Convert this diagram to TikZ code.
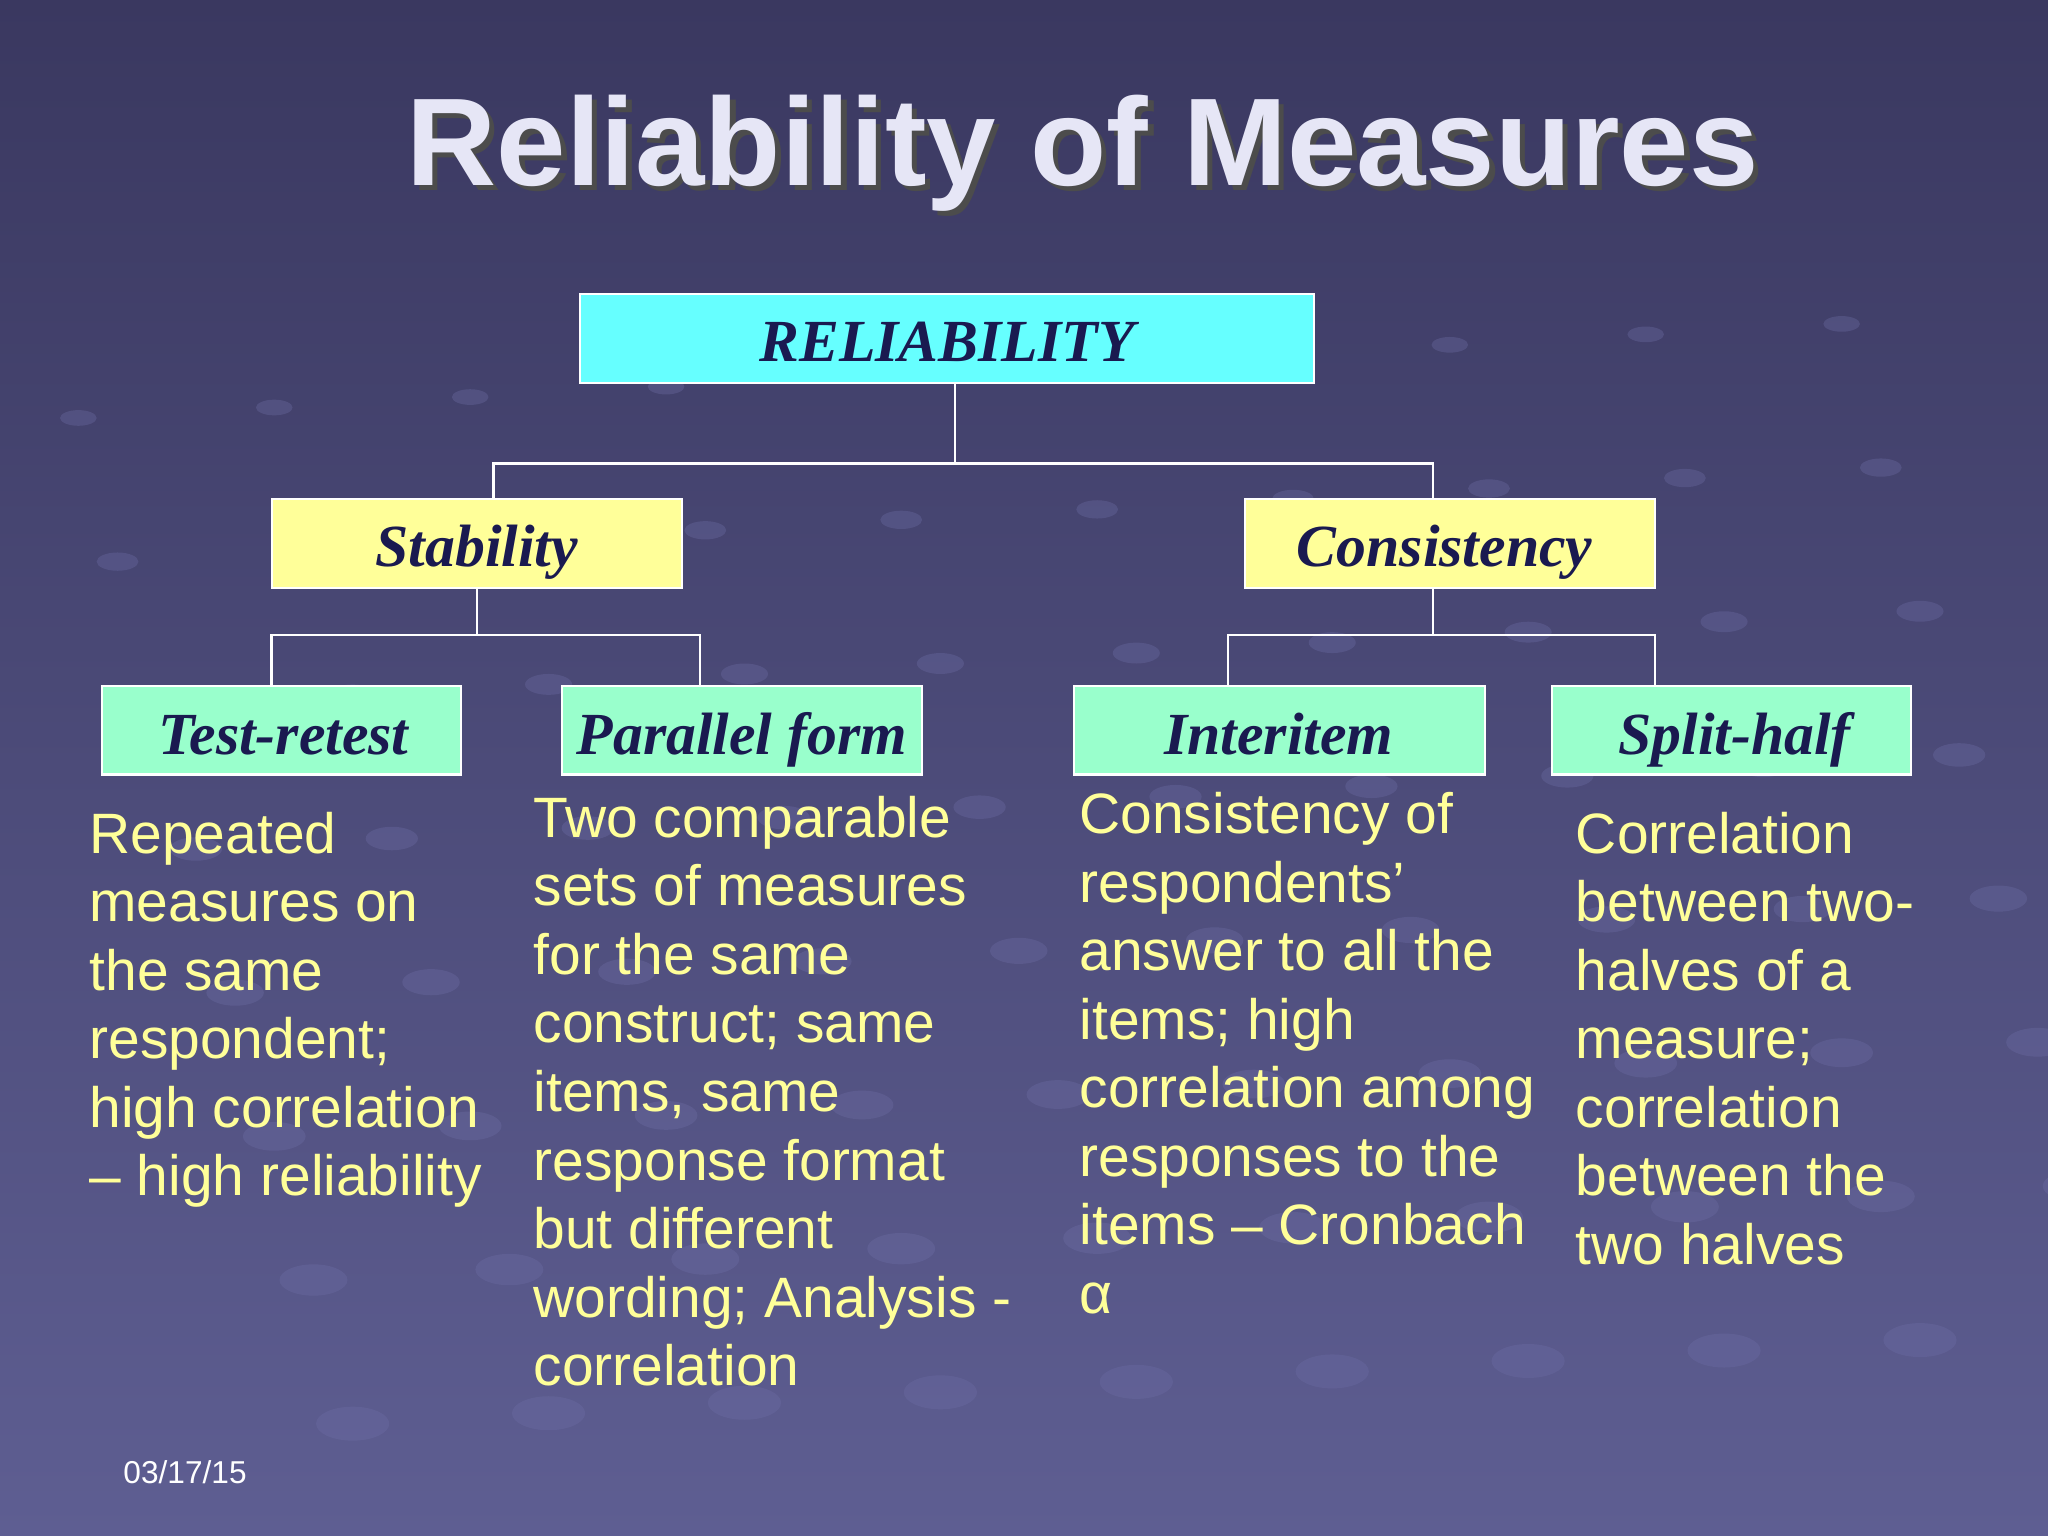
\documentclass[tikz,border=0pt]{standalone}
\usepackage{fontspec}
\setmainfont{Liberation Sans}
\newfontfamily\serifbi{Liberation Serif}
\usetikzlibrary{positioning}
\definecolor{bgtop}{HTML}{3A3860}
\definecolor{bgbot}{HTML}{5E5E92}
\definecolor{boxcyan}{HTML}{66FFFF}
\definecolor{boxyel}{HTML}{FFFF99}
\definecolor{boxmint}{HTML}{99FFCC}
\definecolor{navy}{HTML}{1A1A50}
\definecolor{titlec}{HTML}{E6E6F6}
\definecolor{dotc}{HTML}{6E6EA6}
\tikzset{
 box/.style={draw=white, line width=0.6pt, inner sep=0pt},
 boxtxt/.style={font=\serifbi\bfseries\itshape\fontsize{17}{20}\selectfont, text=navy, text height=1.6ex, text depth=0.4ex},
 con/.style={draw=white, line width=0.7pt},
 body/.style={anchor=north west, align=left, inner sep=0pt, text=boxyel,
   font=\fontsize{16.2}{19.5}\selectfont},
}
\begin{document}
\begin{tikzpicture}[x=0.013061cm,y=-0.013061cm]
\useasboundingbox (0,0) rectangle (1568,1176);
\shade[top color=bgtop, bottom color=bgbot] (0,0) rectangle (1568,1176);
\foreach \i in {0,...,9}{
  \foreach \j in {0,...,7}{
    \fill[dotc, opacity=0.35] ({60+\i*150+\j*30},{320+\j*110-\i*8}) ellipse ({14+\j*2} and {6+\j});
  }}
% title
\node[text=black!70, font=\bfseries\fontsize{35.5}{40}\selectfont] at (833,121) {Reliability of Measures};
\node[text=titlec, font=\bfseries\fontsize{35.5}{40}\selectfont] (title) at (829,117) {Reliability of Measures};
% boxes
\fill[boxcyan, box] (444,225) rectangle (1006,293);
\node[boxtxt] (rel) at (725,268) {RELIABILITY};
\fill[boxyel, box] (208,382) rectangle (522,450);
\node[boxtxt] (stab) at (365,425) {Stability};
\fill[boxyel, box] (953,382) rectangle (1267,450);
\node[boxtxt] (cons) at (1106,425) {Consistency};
\fill[boxmint, box] (78,525) rectangle (353,593);
\node[boxtxt] (tr) at (217,569) {Test-retest};
\fill[boxmint, box] (430,525) rectangle (706,593);
\node[boxtxt] (pf) at (568,569) {Parallel form};
\fill[boxmint, box] (822,525) rectangle (1137,593);
\node[boxtxt] (ii) at (979,569) {Interitem};
\fill[boxmint, box] (1188,525) rectangle (1463,593);
\node[boxtxt] (sh) at (1328,569) {Split-half};
% connectors
\coordinate (a1) at (731,293); \coordinate (a2) at (731,355);
\draw[con] (a1) -- (a2);
\draw[con] (378,382) -- (378,355) -- (1097,355) -- (1097,382);
\draw[con] (365,450) -- (365,486);
\draw[con] (208,525) -- (208,486) -- (536,486) -- (536,525);
\draw[con] (1097,450) -- (1097,486);
\draw[con] (940,525) -- (940,486) -- (1267,486) -- (1267,525);
% body texts
\node[body] (t1) at (68,621) {Repeated\\measures on\\the same\\respondent;\\high correlation\\– high reliability};
\node[body] (t2) at (408,609) {Two comparable\\sets of measures\\for the same\\construct; same\\items, same\\response format\\but different\\wording; Analysis -\\correlation};
\node[body] (t3) at (826,606) {Consistency of\\respondents’\\answer to all the\\items; high\\correlation among\\responses to the\\items – Cronbach\\α};
\node[body] (t4) at (1206,621) {Correlation\\between two-\\halves of a\\measure;\\correlation\\between the\\two halves};
\node[anchor=west, inner sep=0pt, text=white, font=\fontsize{9}{11}\selectfont] (date) at (94,1127) {03/17/15};
\end{tikzpicture}
\end{document}
